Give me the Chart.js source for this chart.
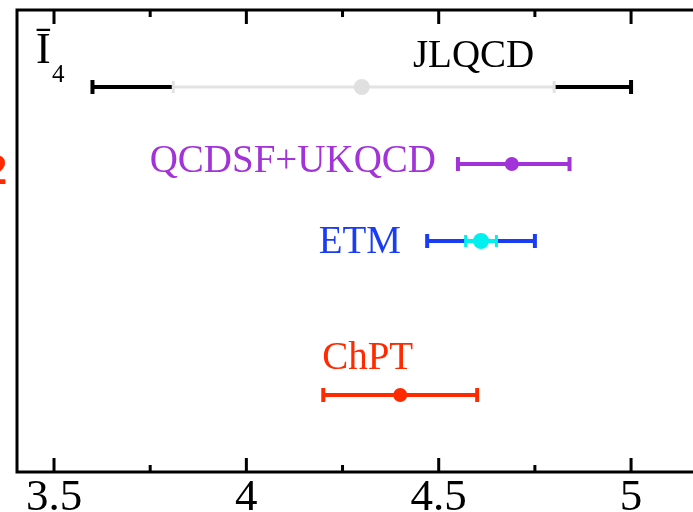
<!DOCTYPE html>
<html>
<head>
<meta charset="utf-8">
<script src="https://cdn.jsdelivr.net/npm/chart.js@4.4.1/dist/chart.umd.min.js"></script>
<style>
  html, body { margin: 0; padding: 0; background: #fff; }
</style>
</head>
<body>
<canvas id="chart" width="693" height="512"></canvas>
<script>
// values
const groups = ['JLQCD', 'QCDSF+UKQCD', 'ETM', 'ChPT'];
const rows = [1, 2, 3, 5];
const centralValues = [4.30, 4.69, 4.61, 4.40];
const innerLow = [3.81, null, 4.57, null];
const innerHigh = [4.80, null, 4.65, null];
const outerLow = [3.60, 4.55, 4.47, 4.20];
const outerHigh = [5.00, 4.84, 4.75, 4.60];
const xTicks = [3.5, 4, 4.5, 5];
const xMinorTicks = [3.75, 4.25, 4.75];

const outerColors = ['#000000', '#a233d8', '#1a3cf5', '#ff2a00'];
const innerColors = ['#e3e3e3', null, '#00f0f0', null];
const pointColors = ['#e0e0e0', '#a233d8', '#00f0f0', '#ff2a00'];

const SERIF = '"Liberation Serif", "Times New Roman", serif';

const errorBars = {
    id: 'errorBars',
    beforeDatasetsDraw(chart) {
        const ctx = chart.ctx;
        const x = chart.scales.x, y = chart.scales.y;
        ctx.save();
        ctx.lineCap = 'butt';
        groups.forEach((g, i) => {
            const py = y.getPixelForValue(rows[i]);
            const xl = x.getPixelForValue(outerLow[i]);
            const xh = x.getPixelForValue(outerHigh[i]);
            ctx.strokeStyle = outerColors[i];
            ctx.lineWidth = 4;
            ctx.beginPath();
            if (innerLow[i] !== null) {
                ctx.moveTo(xl, py); ctx.lineTo(x.getPixelForValue(innerLow[i]), py);
                ctx.moveTo(x.getPixelForValue(innerHigh[i]), py); ctx.lineTo(xh, py);
            } else {
                ctx.moveTo(xl, py); ctx.lineTo(xh, py);
            }
            ctx.stroke();
            // caps
            ctx.beginPath();
            ctx.moveTo(xl, py - 7); ctx.lineTo(xl, py + 7);
            ctx.moveTo(xh, py - 7); ctx.lineTo(xh, py + 7);
            ctx.stroke();
            if (innerLow[i] !== null) {
                const il = x.getPixelForValue(innerLow[i]);
                const ih = x.getPixelForValue(innerHigh[i]);
                ctx.strokeStyle = innerColors[i];
                ctx.lineWidth = i === 0 ? 3 : 4;
                ctx.beginPath();
                ctx.moveTo(il, py); ctx.lineTo(ih, py);
                ctx.stroke();
                ctx.lineWidth = 3;
                ctx.beginPath();
                ctx.moveTo(il, py - 6); ctx.lineTo(il, py + 6);
                ctx.moveTo(ih, py - 6); ctx.lineTo(ih, py + 6);
                ctx.stroke();
            }
        });
        ctx.restore();
    }
};

const frame = {
    id: 'frame',
    afterDraw(chart, args, opts) {
        const ctx = chart.ctx;
        const a = chart.chartArea;
        const x = chart.scales.x, y = chart.scales.y;
        ctx.save();
        // box
        ctx.strokeStyle = '#000';
        ctx.lineWidth = 3;
        ctx.beginPath();
        ctx.moveTo(chart.width, a.top);
        ctx.lineTo(a.left, a.top);
        ctx.lineTo(a.left, a.bottom);
        ctx.lineTo(chart.width, a.bottom);
        ctx.stroke();
        // inward ticks
        ctx.beginPath();
        xTicks.forEach(v => {
            const px = x.getPixelForValue(v);
            ctx.moveTo(px, a.top); ctx.lineTo(px, a.top + 14);
            ctx.moveTo(px, a.bottom); ctx.lineTo(px, a.bottom - 14);
        });
        xMinorTicks.forEach(v => {
            const px = x.getPixelForValue(v);
            ctx.moveTo(px, a.top); ctx.lineTo(px, a.top + 7);
            ctx.moveTo(px, a.bottom); ctx.lineTo(px, a.bottom - 7);
        });
        ctx.stroke();

        // tick labels
        ctx.fillStyle = '#000';
        ctx.font = '45px ' + SERIF;
        ctx.textAlign = 'center';
        ctx.textBaseline = 'alphabetic';
        xTicks.forEach(v => {
            ctx.fillText(String(v), x.getPixelForValue(v), a.bottom + 38);
        });

        // group labels
        ctx.font = '39px ' + SERIF;
        opts.labels.forEach((l, i) => {
            ctx.fillStyle = outerColors[i];
            ctx.textAlign = l.align;
            ctx.fillText(groups[i], x.getPixelForValue(l.x), y.getPixelForValue(l.y));
        });

        // axis symbol
        ctx.fillStyle = '#000';
        ctx.textAlign = 'left';
        ctx.font = '44px ' + SERIF;
        ctx.fillText('\u012A', 36, 63);
        ctx.font = '25px ' + SERIF;
        ctx.fillText('4', 52, 82);

        // clipped panel marker at left edge
        ctx.fillStyle = '#ff2a00';
        ctx.font = 'bold 42px "Liberation Sans", Arial, sans-serif';
        ctx.textAlign = 'right';
        ctx.fillText('2', 7, 184);
        ctx.restore();
    }
};

new Chart('chart', {
    type: 'scatter',
    data: {
        datasets: [{
            data: centralValues.map((v, i) => ({ x: v, y: rows[i] })),
            pointRadius: [8, 7, 8, 7],
            pointBackgroundColor: pointColors,
            pointBorderWidth: 0,
            pointBorderColor: pointColors
        }]
    },
    options: {
        responsive: false,
        animation: false,
        layout: { autoPadding: false, padding: { left: 17, top: 10, right: 0, bottom: 40 } },
        plugins: {
            legend: { display: false },
            tooltip: { enabled: false },
            frame: {
                labels: [
                    { x: 4.433, y: 0.74, align: 'left' },
                    { x: 4.493, y: 2.10, align: 'right' },
                    { x: 4.402, y: 3.16, align: 'right' },
                    { x: 4.197, y: 4.66, align: 'left' }
                ]
            }
        },
        scales: {
            x: {
                type: 'linear',
                min: 3.4038,
                max: 5.161,
                display: false
            },
            y: {
                type: 'linear',
                min: 0,
                max: 6,
                reverse: true,
                display: false
            }
        }
    },
    plugins: [errorBars, frame]
});
</script>
</body>
</html>
